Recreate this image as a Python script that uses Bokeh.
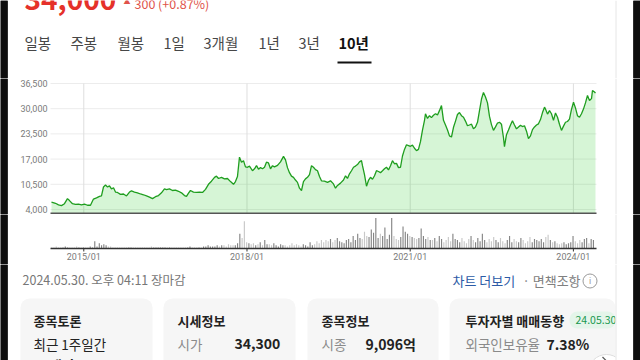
import numpy as np
from bokeh.plotting import figure
from bokeh.layouts import column
from bokeh.models import Range1d
from bokeh.core.properties import value
from bokeh.embed import file_html
from bokeh.resources import INLINE

KR = value("Noto Sans CJK KR")
RB = value("Roboto")

# ---------------- data ----------------
price_year = [
    2014.406, 2014.480, 2014.535, 2014.590, 2014.645, 2014.700, 2014.737, 2014.792, 2014.847, 2014.903,
    2014.958, 2015.013, 2015.068, 2015.123, 2015.178, 2015.233, 2015.289, 2015.325, 2015.362, 2015.399,
    2015.436, 2015.472, 2015.509, 2015.546, 2015.583, 2015.619, 2015.675, 2015.730, 2015.785, 2015.840,
    2015.877, 2015.932, 2015.987, 2016.042, 2016.097, 2016.153, 2016.208, 2016.263, 2016.318, 2016.373,
    2016.428, 2016.483, 2016.520, 2016.575, 2016.630, 2016.686, 2016.741, 2016.796, 2016.851, 2016.888,
    2016.925, 2016.961, 2017.016, 2017.072, 2017.127, 2017.182, 2017.237, 2017.292, 2017.347, 2017.403,
    2017.439, 2017.476, 2017.531, 2017.586, 2017.641, 2017.697, 2017.752, 2017.788, 2017.825, 2017.862,
    2017.899, 2017.936, 2017.972, 2018.009, 2018.046, 2018.101, 2018.138, 2018.175, 2018.211, 2018.248,
    2018.285, 2018.322, 2018.358, 2018.395, 2018.432, 2018.469, 2018.505, 2018.561, 2018.616, 2018.671,
    2018.708, 2018.744, 2018.781, 2018.818, 2018.855, 2018.891, 2018.928, 2018.965, 2019.002, 2019.038,
    2019.075, 2019.112, 2019.149, 2019.186, 2019.222, 2019.259, 2019.296, 2019.333, 2019.369, 2019.425,
    2019.480, 2019.535, 2019.590, 2019.627, 2019.664, 2019.719, 2019.774, 2019.811, 2019.847, 2019.884,
    2019.921, 2019.958, 2019.994, 2020.031, 2020.068, 2020.105, 2020.123, 2020.160, 2020.197, 2020.233,
    2020.270, 2020.307, 2020.344, 2020.380, 2020.417, 2020.454, 2020.491, 2020.527, 2020.564, 2020.601,
    2020.638, 2020.674, 2020.711, 2020.748, 2020.785, 2020.822, 2020.858, 2020.895, 2020.932, 2020.969,
    2021.005, 2021.042, 2021.079, 2021.116, 2021.152, 2021.189, 2021.226, 2021.263, 2021.281, 2021.318,
    2021.355, 2021.391, 2021.428, 2021.465, 2021.502, 2021.538, 2021.575, 2021.612, 2021.649, 2021.686,
    2021.722, 2021.759, 2021.796, 2021.833, 2021.869, 2021.906, 2021.943, 2021.980, 2022.016, 2022.053,
    2022.090, 2022.127, 2022.163, 2022.200, 2022.237, 2022.274, 2022.311, 2022.347, 2022.384, 2022.421,
    2022.458, 2022.494, 2022.531, 2022.568, 2022.605, 2022.641, 2022.678, 2022.715, 2022.733, 2022.770,
    2022.807, 2022.844, 2022.880, 2022.917, 2022.954, 2022.991, 2023.027, 2023.064, 2023.101, 2023.138,
    2023.174, 2023.211, 2023.248, 2023.285, 2023.322, 2023.358, 2023.395, 2023.432, 2023.469, 2023.487,
    2023.524, 2023.561, 2023.597, 2023.634, 2023.671, 2023.708, 2023.744, 2023.781, 2023.818, 2023.855,
    2023.891, 2023.928, 2023.965, 2024.002, 2024.038, 2024.075, 2024.112, 2024.149, 2024.185, 2024.222,
    2024.259, 2024.296, 2024.333, 2024.351, 2024.388, 2024.406,
]
price_close = [
    5900, 5600, 5200, 5000, 5500, 6800, 6300, 5500, 5300, 5400,
    5200, 5400, 5100, 5100, 6700, 7000, 7400, 7500, 9800, 10300,
    9800, 10100, 9300, 9600, 8500, 8400, 7900, 8000, 7500, 8500,
    8800, 8500, 8300, 8000, 7800, 7500, 7200, 6800, 7300, 7600,
    8300, 9300, 9100, 9300, 8900, 9000, 8700, 8300, 7600, 7400,
    8200, 8900, 8500, 8400, 8500, 8400, 9200, 10500, 11300, 12300,
    12600, 12000, 12300, 11900, 12000, 11200, 10500, 11200, 12500, 17500,
    16200, 16600, 15000, 14900, 15200, 14000, 14500, 15300, 14400, 14800,
    14500, 14900, 16200, 16000, 14500, 15300, 15000, 15400, 16300, 17700,
    16800, 14800, 13500, 12600, 12300, 11600, 11000, 9500, 8900, 11200,
    11900, 12300, 13000, 15300, 14900, 14300, 14000, 12500, 11400, 11300,
    11000, 11400, 10600, 9500, 10200, 10800, 11600, 12700, 12000, 13200,
    14000, 14900, 15200, 15600, 16300, 16600, 15300, 13000, 10000, 11500,
    12300, 11800, 12700, 14000, 13800, 13500, 14000, 14500, 14900, 14200,
    15300, 16600, 15800, 15900, 14800, 14900, 17800, 19500, 20700, 20500,
    20300, 20600, 19800, 19200, 19500, 21500, 24500, 27000, 28700, 27500,
    28200, 27700, 28300, 28700, 28400, 29500, 30800, 27000, 25800, 24500,
    23000, 22700, 25200, 26800, 28500, 29000, 28200, 27800, 26800, 25600,
    25800, 26000, 24800, 25300, 26500, 29500, 32500, 34200, 33000, 31500,
    28000, 25900, 24400, 25300, 26300, 26500, 26000, 22500, 20200, 23300,
    24500, 25800, 26900, 25800, 24800, 25300, 25700, 25400, 25600, 24200,
    22300, 23000, 24600, 25300, 25800, 26100, 27200, 29000, 30400, 29900,
    28600, 29500, 28700, 27000, 28900, 27800, 26000, 24400, 25500, 26500,
    26700, 27300, 29800, 31700, 30200, 28200, 27800, 28700, 29900, 31500,
    33400, 32100, 32600, 34700, 34300, 34000,
]
price_ticks = [4000, 10500, 17000, 23500, 30000, 36500]
year_ticks = [2015, 2018, 2021, 2024]
year_labels = ["2015/01", "2018/01", "2021/01", "2024/01"]

# half-monthly volume (relative units), 2014-06 .. 2024-05
vol_start = 2014.41
volume = [
    1, 1, 2, 1, 1, 1, 2, 1, 1, 1, 1, 2, 1, 1, 1, 1, 1, 2, 1, 7, 2, 5, 3, 4,
    3, 2, 2, 1, 1, 1, 1, 1, 1, 1, 1, 1, 1, 1, 1, 1, 1, 1, 1, 1, 2, 1, 1, 1,
    1, 1, 1, 1, 1, 1, 1, 1, 1, 1, 1, 1, 1, 2, 1, 1, 1, 1, 1, 2, 2, 3, 2, 2,
    2, 3, 2, 3, 3, 2, 4, 3, 3, 3, 5, 14, 10, 26, 6, 5, 4, 5, 3, 4, 6, 3, 8, 4,
    4, 3, 5, 3, 2, 4, 3, 3, 2, 3, 5, 3, 4, 3, 2, 4, 3, 2, 6, 3, 4, 7, 5, 8,
    6, 8, 7, 9, 6, 8, 10, 7, 6, 5, 8, 9, 6, 12, 8, 14, 10, 9, 16, 12, 11, 18, 15, 29,
    10, 14, 12, 20, 9, 13, 29, 12, 9, 8, 11, 21, 16, 14, 12, 11, 10, 9, 10, 19, 12, 9, 11, 8,
    8, 10, 7, 12, 9, 6, 8, 11, 7, 14, 9, 8, 6, 10, 7, 5, 9, 12, 8, 6, 10, 7, 14, 8,
    6, 9, 7, 11, 8, 6, 10, 7, 5, 8, 12, 6, 9, 7, 6, 10, 8, 5, 7, 11, 6, 9, 8, 7,
    9, 6, 11, 13, 8, 6, 7, 5, 4, 5, 6, 4, 5, 6, 12, 7, 5, 8, 6, 9, 10, 5, 9, 8,
]

last_price = "34,000"
price_change = "300 (+0.87%)"
tab_labels = ["일봉", "주봉", "월봉", "1일", "3개월", "1년", "3년", "10년"]
selected_tab = "10년"
timestamp = "2024.05.30. 오후 04:11 장마감"
more_link = "차트 더보기"
disclaimer = "· 면책조항"
card_titles = ["종목토론", "시세정보", "종목정보", "투자자별 매매동향"]
card_labels = ["최근 1주일간", "시가", "시종", "외국인보유율"]
card_values = ["", "34,300", "9,096억", "7.38%"]
card_third = "54개의"
badge_text = "24.05.30"

# ---------------- layout constants (picture pixels) ----------------
W = 640
PXY = 54.4                            # pixels per year in the chart
X_START, X_END = 2014.388, 2024.425   # chart data area (x 50 .. 596)


def yr(px):                           # picture x -> chart year (layout helper)
    return X_START + (px - 50) / PXY


Y_FLOOR, Y_TOP = 2710, 37790          # price scale over y 214 .. 78
VPX = 32 / 30.5                       # volume: px per unit
V_LO, V_HI = -16 / VPX, 30.5 + 2 / VPX   # volume scale over y 264 .. 214
GREEN = "#1f9e1f"
DARK = "#0e0e0e"
EDGE_GRAY = "#e6e6e6"


def style(p):
    p.grid.visible = False
    p.outline_line_color = None
    p.background_fill_color = "white"
    p.border_fill_color = "white"


def blank(height, y_top, y_bottom):
    p = figure(width=W, height=height,
               x_range=Range1d(0, W), y_range=Range1d(y_bottom, y_top),
               toolbar_location=None, output_backend="svg",
               x_axis_location=None, y_axis_location=None, min_border=0)
    style(p)
    return p


def edges(p, xl, xr, xg, top, bottom):
    # dark page edges (filled boxes plus 7px-wide strokes) and the light container border
    p.quad(left=[xl[0], xr[0]], right=[xl[1], xr[1]], top=[top, top], bottom=[bottom, bottom],
           fill_color=DARK, line_color=None)
    p.segment(x0=[(xl[0] + xl[1]) / 2, (xr[0] + xr[1]) / 2],
              x1=[(xl[0] + xl[1]) / 2, (xr[0] + xr[1]) / 2],
              y0=[top, top], y1=[bottom, bottom], line_color=DARK, line_width=7.5,
              line_cap="butt")
    p.segment(x0=[xg], x1=[xg], y0=[top], y1=[bottom], line_color=EDGE_GRAY, line_width=1)


# ---------- header (y 0 .. 78) ----------
pA = blank(78, 0, 78)
pA.text(x=[24], y=[-0.7], text=[last_price], text_font=KR, text_font_size="28px",
        text_font_style="bold", text_color="#e5312a", text_baseline="middle")
pA.text(x=[123], y=[0.5], text=["▲"], text_font=KR, text_font_size="7px",
        text_color="#e0534a", text_baseline="middle")
pA.text(x=[134], y=[2.8], text=[price_change], text_font=KR, text_font_size="12.5px",
        text_color="#e0534a", text_baseline="middle")
tab_x = [24, 70, 117, 163, 203, 258, 298, 338]
norm = [i for i, t in enumerate(tab_labels) if t != selected_tab]
sel = tab_labels.index(selected_tab)
pA.text(x=[tab_x[i] for i in norm], y=[41.7] * len(norm), text=[tab_labels[i] for i in norm],
        text_font=KR, text_font_size="14.5px", text_color="#474747", text_baseline="middle")
pA.text(x=[tab_x[sel]], y=[41.7], text=[selected_tab], text_font=KR, text_font_size="14.5px",
        text_font_style="bold", text_color="#111111", text_baseline="middle")
pA.quad(left=[tab_x[sel] - 1], right=[tab_x[sel] + 33], top=[61], bottom=[63],
        fill_color="#111111", line_color=None)
edges(pA, (0, 7), (633, 640), 615.5, 0, 78)

# ---------- price chart (y 78 .. 214) ----------
pB = figure(width=W, height=136, x_range=Range1d(yr(0), yr(W)), y_range=Range1d(Y_FLOOR, Y_TOP),
            toolbar_location=None, output_backend="svg", x_axis_location=None, y_axis_location=None,
            min_border=0)
style(pB)
n_t = len(price_ticks)
pB.segment(x0=[X_START] * n_t, x1=[X_END] * n_t, y0=price_ticks, y1=price_ticks,
           line_color="#ececec", line_width=1)
pB.segment(x0=year_ticks, x1=year_ticks, y0=[Y_FLOOR] * 4, y1=[price_ticks[-1]] * 4,
           line_color="#dedede", line_width=1)
pB.varea(x=price_year, y1=Y_FLOOR, y2=price_close, fill_color="#33cc33", fill_alpha=0.2)
pB.line(price_year, price_close, line_color=GREEN, line_width=1.3)
pB.segment(x0=[X_START], x1=[X_END], y0=[Y_FLOOR + 258], y1=[Y_FLOOR + 258],
           line_color="#555555", line_width=2)
pB.text(x=[yr(47)] * n_t, y=price_ticks, text=[f"{t:,}" for t in price_ticks],
        text_font=RB, text_font_size="9px", text_color="#7a7a7a",
        text_align="right", text_baseline="middle")
edges(pB, (yr(0), yr(7)), (yr(633), yr(640)), yr(615.5), Y_TOP, Y_FLOOR)

# ---------- volume (y 214 .. 264) ----------
vy = vol_start + np.arange(len(volume)) / 24.0
p_now = np.interp(vy, price_year, price_close)
p_prev = np.interp(vy - 1 / 24.0, price_year, price_close)
vcol = np.where(p_now >= p_prev, "#858585", "#c8c8c8").tolist()

pC = figure(width=W, height=50, x_range=pB.x_range, y_range=Range1d(V_LO, V_HI),
            toolbar_location=None, output_backend="svg", x_axis_location=None, y_axis_location=None,
            min_border=0)
style(pC)
pC.vbar(x=vy, top=volume, bottom=0, width=0.021, fill_color=vcol, line_color=None)
# time axis: baseline, ticks and labels on the shared year scale
pC.segment(x0=[X_START], x1=[X_END], y0=[0], y1=[0], line_color="#333333", line_width=1.5)
pC.segment(x0=year_ticks, x1=year_ticks, y0=[0] * 4, y1=[-3 / VPX] * 4,
           line_color="#333333", line_width=1)
pC.text(x=year_ticks, y=[-8 / VPX] * 4, text=year_labels, text_font=RB, text_font_size="9px",
        text_color="#7a7a7a", text_align="center", text_baseline="middle")
edges(pC, (yr(0), yr(7)), (yr(633), yr(640)), yr(615.5), V_HI, V_LO)

# ---------- footer (y 264 .. 360) ----------
pD = blank(96, 264, 360)
pD.text(x=[22], y=[279], text=[timestamp], text_font=KR, text_font_size="12.5px",
        text_color="#777777", text_baseline="middle")
pD.text(x=[452], y=[280], text=[more_link], text_font=KR, text_font_size="13px",
        text_color="#2c5ba6", text_baseline="middle")
pD.text(x=[522], y=[280], text=[disclaimer], text_font=KR, text_font_size="13px",
        text_color="#808080", text_baseline="middle")
pD.scatter(x=[589.5], y=[280.5], size=14, marker="circle", fill_color=None,
           line_color="#9a9a9a", line_width=1)
pD.text(x=[589.5], y=[280.5], text=["i"], text_font=RB, text_font_size="9px",
        text_color="#9a9a9a", text_align="center", text_baseline="middle")

card_left = [20, 163, 307, 449]
card_right = [152, 295, 438, 615]
try:
    pD.quad(left=card_left, right=card_right, top=[298] * 4, bottom=[380] * 4,
            fill_color="#f6f6f6", line_color=None, border_radius=9)
except Exception:
    pD.quad(left=card_left, right=card_right, top=[298] * 4, bottom=[380] * 4,
            fill_color="#f6f6f6", line_color=None)
text_x = [33, 177, 321, 465]
pD.text(x=text_x, y=[320] * 4, text=card_titles, text_font=KR, text_font_size="13px",
        text_font_style="bold", text_color="#222222", text_baseline="middle")
pD.text(x=text_x[:1], y=[343], text=card_labels[:1], text_font=KR, text_font_size="13.5px",
        text_color="#222222", text_baseline="middle")
pD.text(x=text_x[1:], y=[343] * 3, text=card_labels[1:], text_font=KR, text_font_size="13.5px",
        text_color="#8a8a8a", text_baseline="middle")
pD.text(x=[234, 365, 546], y=[343] * 3, text=card_values[1:], text_font=KR, text_font_size="14px",
        text_font_style="bold", text_color="#222222", text_baseline="middle")
pD.text(x=text_x[:1], y=[364], text=[card_third], text_font=KR, text_font_size="13.5px",
        text_font_style="bold", text_color="#222222", text_baseline="middle")
try:
    pD.quad(left=[569], right=[615], top=[311], bottom=[328], fill_color="#e4f5ea",
            line_color=None, border_radius=8)
except Exception:
    pD.quad(left=[569], right=[615], top=[311], bottom=[328], fill_color="#e4f5ea", line_color=None)
pD.text(x=[575], y=[319.5], text=[badge_text], text_font=KR, text_font_size="10.5px",
        text_color="#1a9850", text_baseline="middle")
# round "next" button peeking in at the bottom right
pD.scatter(x=[606], y=[372], size=36, marker="circle", fill_color="white",
           line_color="#dddddd", line_width=1)
pD.segment(x0=[602], y0=[356.5], x1=[607], y1=[361.5], line_color="#555555", line_width=1.2)
# the page is clipped by its container at x 615
pD.quad(left=[615], right=[633], top=[264], bottom=[360], fill_color="white", line_color=None)
edges(pD, (0, 7), (633, 640), 615.5, 264, 360)

layout = column(pA, pB, pC, pD)
open("out.html", "w").write(file_html(layout, INLINE, title="chart"))
